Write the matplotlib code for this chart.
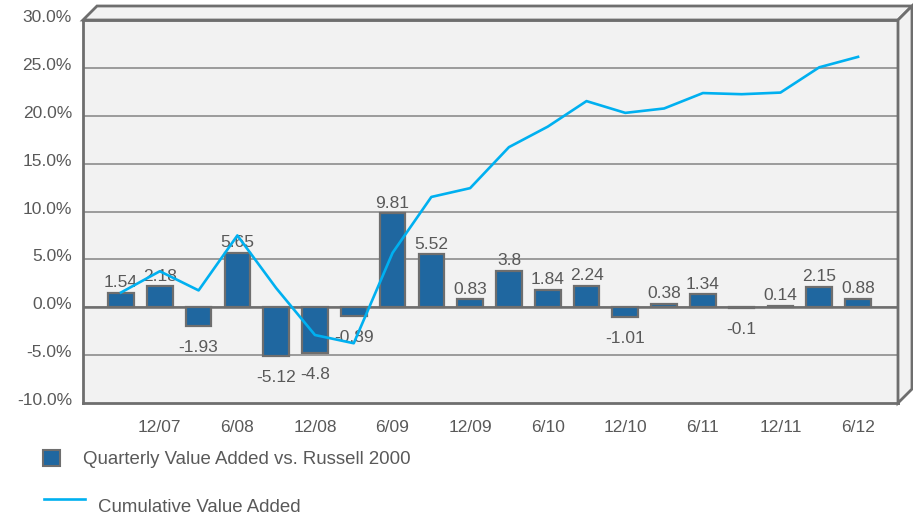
import numpy as np
import matplotlib.pyplot as plt
import matplotlib.transforms as mtransforms
from matplotlib.patches import Polygon, Rectangle
from matplotlib.lines import Line2D

plt.rcParams['font.family'] = ['Liberation Sans', 'DejaVu Sans']

quarters = ['9/07', '12/07', '3/08', '6/08', '9/08', '12/08', '3/09', '6/09', '9/09', '12/09',
            '3/10', '6/10', '9/10', '12/10', '3/11', '6/11', '9/11', '12/11', '3/12', '6/12']
quarterly = [1.54, 2.18, -1.93, 5.65, -5.12, -4.8, -0.89, 9.81, 5.52, 0.83,
             3.8, 1.84, 2.24, -1.01, 0.38, 1.34, -0.1, 0.14, 2.15, 0.88]
cumulative = [1.54, 3.76, 1.76, 7.50, 2.00, -2.90, -3.76, 5.68, 11.52, 12.44,
              16.72, 18.86, 21.53, 20.30, 20.76, 22.37, 22.25, 22.42, 25.06, 26.15]

W, H = 913, 518
fig = plt.figure(figsize=(W / 100, H / 100), dpi=100)
fig.patch.set_facecolor('white')

# plot area in pixels
x0, x1, y0, y1 = 83, 898, 20, 403
depth = 14
ax = fig.add_axes([x0 / W, 1 - y1 / H, (x1 - x0) / W, (y1 - y0) / H])
ax.set_facecolor('#F2F2F2')

text_c = '#595959'
edge_c = '#6E6E6E'
bar_c = '#1F67A0'
line_c = '#00B0F0'

# 3d top and side walls of the box
def px(x, y):
    return (x / W, 1 - y / H)

top = Polygon([px(x0, y0), px(x0 + depth, y0 - depth), px(x1 + depth, y0 - depth), px(x1, y0)],
              closed=True, transform=fig.transFigure, facecolor='#F2F2F2',
              edgecolor=edge_c, linewidth=2, zorder=0)
side = Polygon([px(x1, y0), px(x1 + depth, y0 - depth), px(x1 + depth, y1 - depth), px(x1, y1)],
               closed=True, transform=fig.transFigure, facecolor='#F2F2F2',
               edgecolor=edge_c, linewidth=2, zorder=0)
fig.patches.extend([top, side])

x = np.arange(len(quarters))
ax.set_xlim(-0.98, 20.03)
ax.set_ylim(-10, 30)

for yv in range(-5, 30, 5):
    ax.axhline(yv, color='#8C8C8C', linewidth=1.2, zorder=1)
ax.axhline(0, color='#6E6E6E', linewidth=1.8, zorder=1)

ax.bar(x, quarterly, width=0.66, color=bar_c, edgecolor=edge_c, linewidth=1.6, zorder=2)
ax.plot(x, cumulative, color=line_c, linewidth=1.9, zorder=4)

for xi, v in zip(x, quarterly):
    if v >= 0:
        ax.annotate(f'{v:g}', (xi, v), xytext=(0, 2), textcoords='offset points',
                    ha='center', va='bottom', fontsize=12.5, color=text_c, zorder=3)
    else:
        ax.annotate(f'{v:g}', (xi, v), xytext=(0, -10), textcoords='offset points',
                    ha='center', va='top', fontsize=12.5, color=text_c, zorder=3)

ax.set_yticks(range(-10, 31, 5))
ax.set_yticklabels([f'{t:.1f}%' for t in range(-10, 31, 5)])
ax.set_xticks(x[1::2])
ax.set_xticklabels(quarters[1::2])
ax.tick_params(length=0, labelsize=12.5, labelcolor=text_c)
ax.tick_params(axis='y', pad=8)
ax.tick_params(axis='x', pad=12)

# value labels sit a little above their gridlines
lift = mtransforms.ScaledTranslation(0, 4 / 100, fig.dpi_scale_trans)
for lbl in ax.get_yticklabels():
    lbl.set_transform(lbl.get_transform() + lift)

for s in ax.spines.values():
    s.set_color(edge_c)
    s.set_linewidth(2)

# legend
fig.patches.append(Rectangle(px(43, 466), 17 / W, 16 / H, transform=fig.transFigure,
                             facecolor=bar_c, edgecolor=edge_c, linewidth=1.5))
fig.text(83 / W, 1 - 459 / H, 'Quarterly Value Added vs. Russell 2000',
         fontsize=13.4, color=text_c, va='center', ha='left')
fig.lines.append(Line2D([44 / W, 85 / W], [1 - 499 / H, 1 - 499 / H],
                        transform=fig.transFigure, color=line_c, linewidth=1.9))
fig.text(98 / W, 1 - 508 / H, 'Cumulative Value Added',
         fontsize=13.4, color=text_c, va='center', ha='left')

fig.savefig('out.png', dpi=100)
